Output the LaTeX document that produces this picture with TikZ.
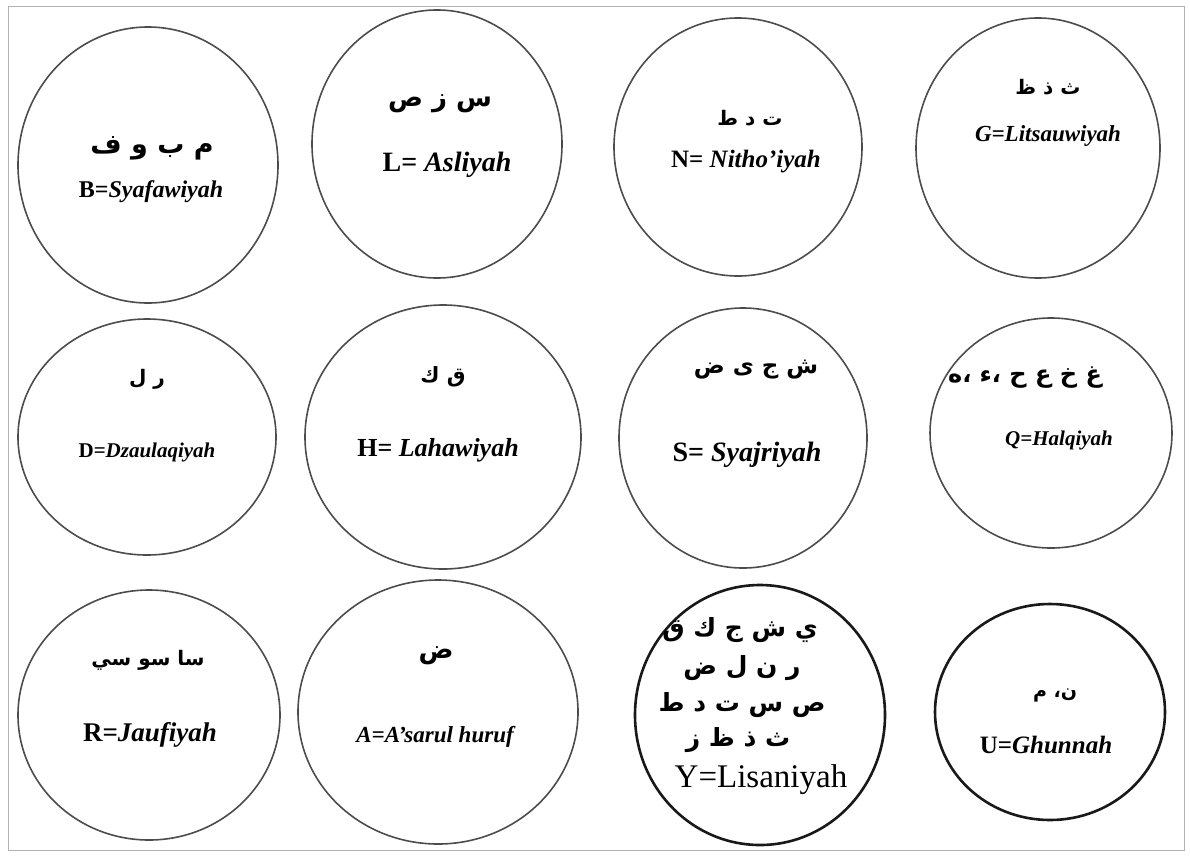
\documentclass[tikz,border=0pt]{standalone}
\usepackage{fontspec}
\setmainfont{Liberation Serif}
\newfontfamily\arabicfont[Script=Arabic]{DejaVu Sans}
\TeXXeTstate=1
\usetikzlibrary{shapes.geometric}
\newcommand{\arabtxt}[1]{{\arabicfont\beginR #1\endR}}

\tikzset{
  ring/.style={draw=black!70, line width=1.6pt, ellipse, inner sep=0pt},
  darkring/.style={ring, draw=black!90, line width=2.6pt},
  lab/.style={font=\fontsize{#1}{#1}\selectfont\bfseries},
  arb/.style={font=\fontsize{#1}{#1}\selectfont\bfseries},
}

\begin{document}
\begin{tikzpicture}[x=1pt, y=-1pt]
    \useasboundingbox (0,0) rectangle (1190,857);
    \draw[gray!60, line width=1pt] (8,6) rectangle (1184,850);

    % first row
    \node[ring, minimum width=260, minimum height=276] (syafawiyah) at (148,165) {};
    \node[arb=27] (lB) at (152,148) {\arabtxt{م ب و ف}};
    \node[lab=24] (tB) at (151,192) {B=\textit{Syafawiyah}};

    \node[ring, minimum width=250, minimum height=268] (asliyah) at (437,144) {};
    \node[arb=26] (lL) at (440,104) {\arabtxt{س ز ص}};
    \node[lab=28] (tL) at (447,165) {L= \textit{Asliyah}};

    \node[ring, minimum width=248, minimum height=258] (nithoiyah) at (738,147) {};
    \node[arb=20] (lN) at (750,118) {\arabtxt{ت د ط}};
    \node[lab=25] (tN) at (746,162) {N= \textit{Nitho'iyah}};

    \node[ring, minimum width=244, minimum height=260] (litsauwiyah) at (1038,148) {};
    \node[arb=20] (lG) at (1048,87) {\arabtxt{ث ذ ظ}};
    \node[lab=23] (tG) at (1048,136) {\textit{G=Litsauwiyah}};

    % second row
    \node[ring, minimum width=258, minimum height=236] (dzaulaqiyah) at (147,437) {};
    \node[arb=20] (lD) at (147,379) {\arabtxt{ر ل}};
    \node[lab=21] (tD) at (147,452) {D=\textit{Dzaulaqiyah}};

    \node[ring, minimum width=276, minimum height=264] (lahawiyah) at (443,437) {};
    \node[arb=21] (lH) at (443,377) {\arabtxt{ق ك}};
    \node[lab=26] (tH) at (438,450) {H= \textit{Lahawiyah}};

    \node[ring, minimum width=248, minimum height=260] (syajriyah) at (743,438) {};
    \node[arb=23] (lS) at (756,370) {\arabtxt{ش ج ى ض}};
    \node[lab=28] (tS) at (747,455) {S= \textit{Syajriyah}};

    \node[ring, minimum width=242, minimum height=230] (halqiyah) at (1051,433) {};
    \node[arb=24] (lQ) at (1025,378) {\arabtxt{غ خ ع ح ،ء ،ه}};
    \node[lab=21] (tQ) at (1059,440) {\textit{Q=Halqiyah}};

    % third row
    \node[ring, minimum width=262, minimum height=250] (jaufiyah) at (149,715) {};
    \node[arb=20] (lR) at (148,660) {\arabtxt{سا سو سي}};
    \node[lab=27] (tR) at (150,735) {R=\textit{Jaufiyah}};

    \node[ring, minimum width=280, minimum height=264] (asarul) at (438,712) {};
    \node[arb=26] (lA) at (436,656) {\arabtxt{ض}};
    \node[lab=23] (tA) at (436,737) {\textit{A=A'sarul huruf}};

    \node[darkring, minimum width=250, minimum height=260] (lisaniyah) at (760,715) {};
    \node[arb=25] (lY1) at (740,630) {\arabtxt{ي ش ج ك ق}};
    \node[arb=25] (lY2) at (742,668) {\arabtxt{ر ن ل ض}};
    \node[arb=25] (lY3) at (742,705) {\arabtxt{ص س ت د ط}};
    \node[arb=25] (lY4) at (738,740) {\arabtxt{ث ذ ظ ز}};
    \node[font=\fontsize{33}{33}\selectfont] (tY) at (761,780) {Y=Lisaniyah};

    \node[darkring, minimum width=230, minimum height=216] (ghunnah) at (1050,712) {};
    \node[arb=19] (lU) at (1055,695) {\arabtxt{ن، م}};
    \node[lab=25] (tU) at (1046,745) {U=\textit{Ghunnah}};
\end{tikzpicture}
\end{document}
